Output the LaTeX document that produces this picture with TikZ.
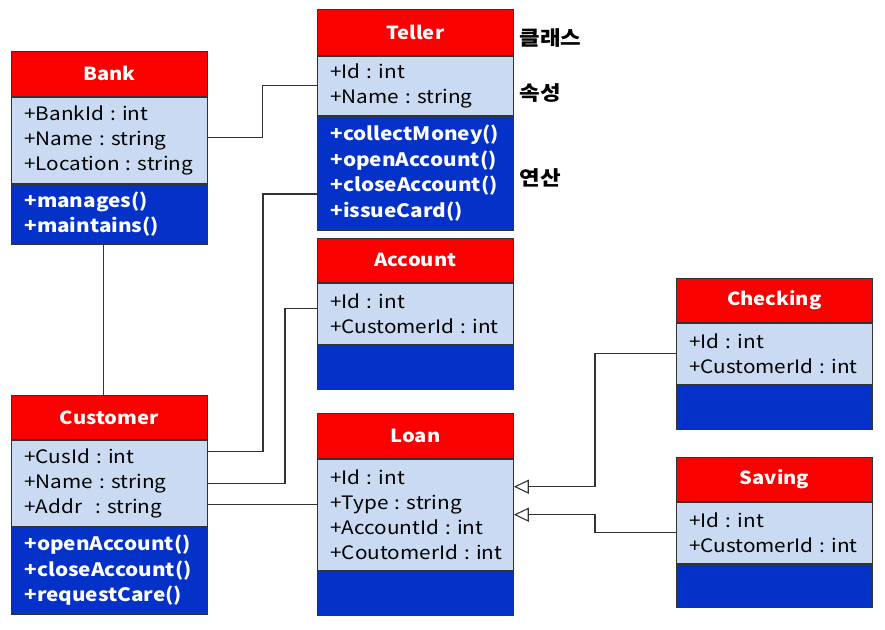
\documentclass[tikz,border=0pt]{standalone}
\usepackage{fontspec}
\setmainfont{Noto Sans CJK KR}[FakeStretch=1.12]
\usetikzlibrary{arrows.meta}
\definecolor{ttlred}{RGB}{250,0,0}
\definecolor{attrblue}{RGB}{201,218,242}
\definecolor{methblue}{RGB}{4,50,200}
\definecolor{edgegray}{RGB}{51,51,51}
\tikzset{
 sect/.style={draw=edgegray, line width=0.8pt, anchor=north west, inner xsep=13pt, inner ysep=0pt, text width=170pt},
 titlebox/.style={sect, fill=ttlred, text=white, font=\bfseries\fontsize{18}{22}\selectfont, align=center},
 attrbox/.style={sect, fill=attrblue, text=black, align=left, font=\fontsize{18.5}{25}\selectfont},
 methbox/.style={sect, fill=methblue, text=white, align=left, font=\bfseries\fontsize{18.5}{25.5}\selectfont},
 conn/.style={draw=edgegray, line width=1.1pt},
 gen/.style={conn, -{Triangle[open, length=15pt, width=14pt, fill=white]}},
 note/.style={anchor=west, font=\bfseries\fontsize{20}{22}\selectfont}
}
\newcommand{\umlclass}[9]{%
 \node[titlebox, minimum height=#4pt] (#1-t) at (#2,#3) {#7};
 \node[attrbox, minimum height=#5pt] (#1-a) at (#1-t.south west) {#8};
 \node[methbox, minimum height=#6pt] (#1-m) at (#1-a.south west) {#9};
}
\frenchspacing
\hfuzz=50pt
\begin{document}
\begin{tikzpicture}[x=1pt,y=-1pt]
\useasboundingbox[fill=white] (0,0) rectangle (885,629);
\umlclass{bank}{11}{51}{45}{86}{60}{Bank}{+BankId~:~int\\+Name~:~string\\+Location~:~string}{+manages()\\+maintains()}
\umlclass{teller}{317}{9}{46}{59}{114}{Teller}{+Id~:~int\\+Name~:~string}{+collectMoney()\\+openAccount()\\+closeAccount()\\+issueCard()}
\umlclass{acct}{317}{238}{44}{61}{44}{Account}{+Id~:~int\\+CustomerId~:~int}{}
\umlclass{check}{676}{278}{44}{61}{44}{Checking}{+Id~:~int\\+CustomerId~:~int}{}
\umlclass{loan}{317}{413}{45}{111}{44}{Loan}{+Id~:~int\\+Type~:~string\\+AccountId~:~int\\+CoutomerId~:~int}{}
\umlclass{save}{676}{457}{44}{61}{43}{Saving}{+Id~:~int\\+CustomerId~:~int}{}
\umlclass{cust}{11}{395}{44}{86}{87}{Customer}{+CusId~:~int\\+Name~:~string\\+Addr\hspace{0.7em}:~string}{+openAccount()\\+closeAccount()\\+requestCare()}
\node[note] (lblclass) at (516,38) {클래스};
\node[note] (lblattr) at (516,93) {속성};
\node[note] (lblop) at (516,178) {연산};
\draw[conn] ([yshift=3pt]bank-a.east) -- ++(55,0) |- (teller-a.west);
\draw[conn] ([yshift=-21pt]teller-m.west) -- ++(-54,0) |- ([yshift=32pt]cust-a.east);
\draw[conn] ([yshift=5pt]acct-a.west) -- ++(-32,0) |- (cust-a.east);
\coordinate (cl) at ([yshift=-21pt]cust-a.east);
\draw[conn] (cl) -- (cl -| loan-a.west);
\draw[conn] ([xshift=-6pt]bank-m.south) -- ([xshift=-6pt]cust-t.north);
\draw[gen] (check-a.west) -- ++(-81,0) |- ([yshift=28pt]loan-a.east);
\draw[gen] (save-a.west) -- ++(-81,0) |- (loan-a.east);
\end{tikzpicture}
\end{document}
